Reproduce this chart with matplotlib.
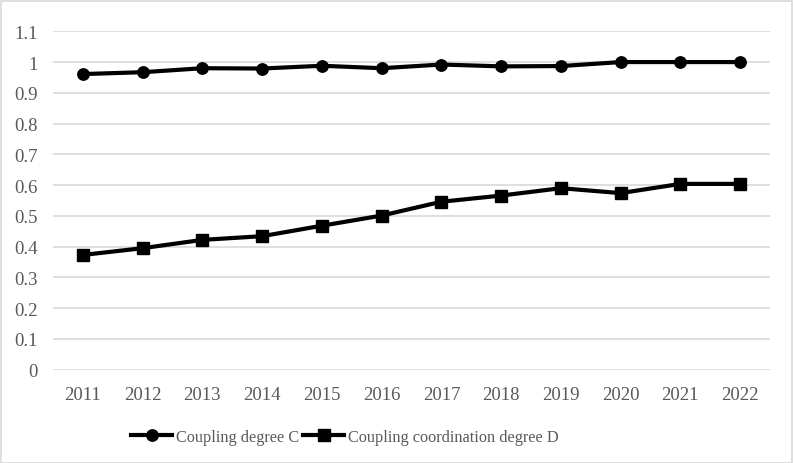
import matplotlib
matplotlib.use("Agg")
import matplotlib.pyplot as plt
from matplotlib.patches import Rectangle

years = ["2011", "2012", "2013", "2014", "2015", "2016", "2017", "2018", "2019", "2020", "2021", "2022"]
coupling_C = [0.961, 0.967, 0.980, 0.979, 0.988, 0.980, 0.992, 0.986, 0.987, 1.000, 1.000, 1.000]
coordination_D = [0.373, 0.395, 0.422, 0.434, 0.468, 0.501, 0.546, 0.566, 0.590, 0.574, 0.604, 0.604]
yticks = [0, 0.1, 0.2, 0.3, 0.4, 0.5, 0.6, 0.7, 0.8, 0.9, 1.0, 1.1]
ytick_labels = ["0", "0.1", "0.2", "0.3", "0.4", "0.5", "0.6", "0.7", "0.8", "0.9", "1", "1.1"]

plt.rcParams['font.family'] = ['Liberation Serif', 'DejaVu Serif']

W, H = 793, 464
fig = plt.figure(figsize=(W / 100, H / 100), dpi=100)
ax = fig.add_axes([53 / W, 1 - 370.7 / H, (770 - 53) / W, (370.7 - 32.3) / H])

x = list(range(len(years)))
ax.plot(x, coupling_C, color='black', lw=3.0, marker='o', markersize=8.2,
        label='Coupling degree C', solid_joinstyle='round')
ax.plot(x, coordination_D, color='black', lw=3.0, marker='s', markersize=8.2,
        label='Coupling coordination degree D', solid_joinstyle='round')

ax.set_xlim(-0.5, len(years) - 0.5)
ax.set_ylim(0, 1.1)
ax.set_xticks(x)
ax.set_xticklabels(years)
ax.set_yticks(yticks)
ax.set_yticklabels(ytick_labels)
ax.grid(axis='y', color='#d9d9d9', lw=1.2)
ax.set_axisbelow(True)
for s in ax.spines.values():
    s.set_visible(False)
ax.tick_params(axis='both', length=0, labelsize=13.5, colors='#595959')
ax.tick_params(axis='y', pad=11)
ax.tick_params(axis='x', pad=12)

leg = fig.legend(loc='center', bbox_to_anchor=(345 / W, 1 - 438 / H), ncol=2,
                 frameon=False, fontsize=11.7, handlelength=2.5, columnspacing=0.25,
                 handletextpad=0.25)
for t in leg.get_texts():
    t.set_color('#595959')

fig.patches.append(Rectangle((0.5 / W, 0.5 / H), (W - 2) / W, (H - 2) / H,
                             transform=fig.transFigure, fill=False,
                             edgecolor='#d9d9d9', lw=1.2))

fig.savefig('out.png', dpi=100, facecolor='white')
